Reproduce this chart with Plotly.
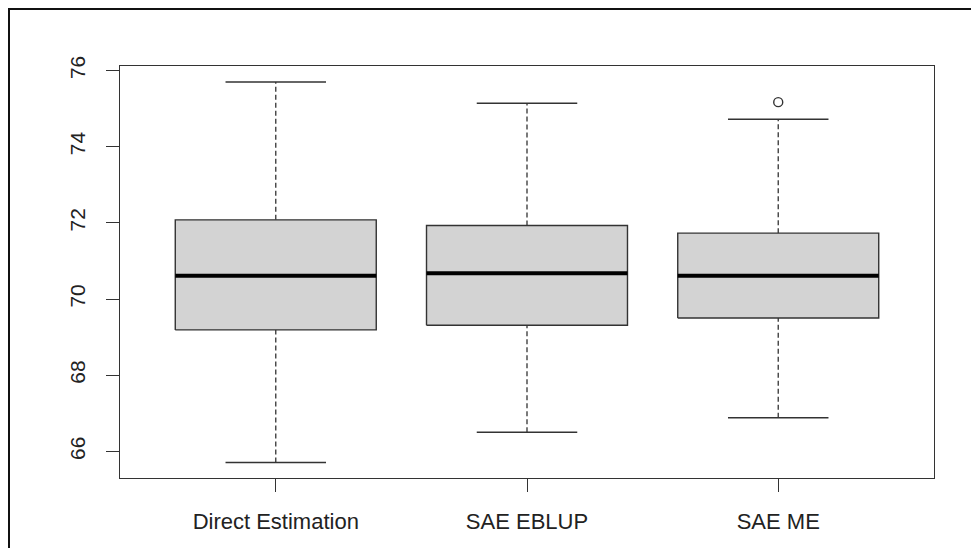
import plotly.graph_objects as go

# ---- data ----
categories = ["Direct Estimation", "SAE EBLUP", "SAE ME"]
lower_whisker = [65.71, 66.50, 66.88]
q1 = [69.19, 69.31, 69.50]
median = [70.61, 70.68, 70.61]
q3 = [72.08, 71.93, 71.73]
upper_whisker = [75.70, 75.14, 74.72]
outlier_cats = ["SAE ME"]
outlier_vals = [75.17]
y_ticks = [66, 68, 70, 72, 74, 76]

# ---- styles ----
BOX_W = 0.8
CAP_W = 0.4
LINE_COL = "#333333"
FILL_COL = "#d3d3d3"
FONT = "Liberation Sans, Arial, sans-serif"
TEXT_COL = "#222222"

fig = go.Figure()

pos = list(range(1, len(categories) + 1))

for i, x in enumerate(pos):
    # dashed whiskers
    fig.add_trace(go.Scatter(
        x=[x, x, None, x, x],
        y=[q3[i], upper_whisker[i], None, lower_whisker[i], q1[i]],
        mode="lines", line=dict(color=LINE_COL, width=1.3, dash="5px,3px"),
        hoverinfo="skip", showlegend=False))
    # staples
    fig.add_trace(go.Scatter(
        x=[x - CAP_W / 2, x + CAP_W / 2, None, x - CAP_W / 2, x + CAP_W / 2],
        y=[upper_whisker[i], upper_whisker[i], None, lower_whisker[i], lower_whisker[i]],
        mode="lines", line=dict(color=LINE_COL, width=1.5),
        hoverinfo="skip", showlegend=False))
    # box
    fig.add_trace(go.Scatter(
        x=[x - BOX_W / 2, x + BOX_W / 2, x + BOX_W / 2, x - BOX_W / 2, x - BOX_W / 2],
        y=[q1[i], q1[i], q3[i], q3[i], q1[i]],
        mode="lines", fill="toself", fillcolor=FILL_COL,
        line=dict(color=LINE_COL, width=1.4),
        hoverinfo="skip", showlegend=False))
    # median
    fig.add_trace(go.Scatter(
        x=[x - BOX_W / 2, x + BOX_W / 2],
        y=[median[i], median[i]],
        mode="lines", line=dict(color="#000000", width=4),
        hoverinfo="skip", showlegend=False))

# outliers
fig.add_trace(go.Scatter(
    x=[pos[categories.index(c)] for c in outlier_cats],
    y=outlier_vals, mode="markers",
    marker=dict(symbol="circle-open", size=9, color=LINE_COL, line=dict(width=1.4, color=LINE_COL)),
    hoverinfo="skip", showlegend=False))

# the page body has an 8px default margin, so the figure starts at (8, 8)
W, H = 971, 540
L, R, T, B = 112, 45, 58, 70
pw, ph = W - L - R, H - T - B
fig.add_shape(type="rect", xref="paper", yref="paper",
              x0=(1 - L) / pw, x1=(W + 20 - L) / pw,
              y0=(H - B - (H + 20)) / ph, y1=(H - B - 1) / ph,
              line=dict(color="#111111", width=2), fillcolor="rgba(0,0,0,0)", layer="below")

fig.update_layout(
    width=W, height=H,
    margin=dict(l=L, r=R, t=T, b=B),
    paper_bgcolor="white", plot_bgcolor="white",
    font=dict(family=FONT, size=21, color=TEXT_COL),
    xaxis=dict(
        range=[0.38, 3.62], tickvals=pos, ticktext=categories,
        showgrid=False, zeroline=False,
        showline=True, mirror=True, linecolor=LINE_COL, linewidth=1.4,
        ticks="outside", ticklen=13, tickcolor=LINE_COL, tickwidth=1.3,
        ticklabelstandoff=10, tickfont=dict(size=22),
    ),
    yaxis=dict(
        range=[65.3, 76.12], tickvals=y_ticks,
        showgrid=False, zeroline=False,
        showline=True, mirror=True, linecolor=LINE_COL, linewidth=1.4,
        ticks="outside", ticklen=13, tickcolor=LINE_COL, tickwidth=1.3,
        tickangle=-90, ticklabelstandoff=12,
    ),
)

fig.write_html("out.html")
